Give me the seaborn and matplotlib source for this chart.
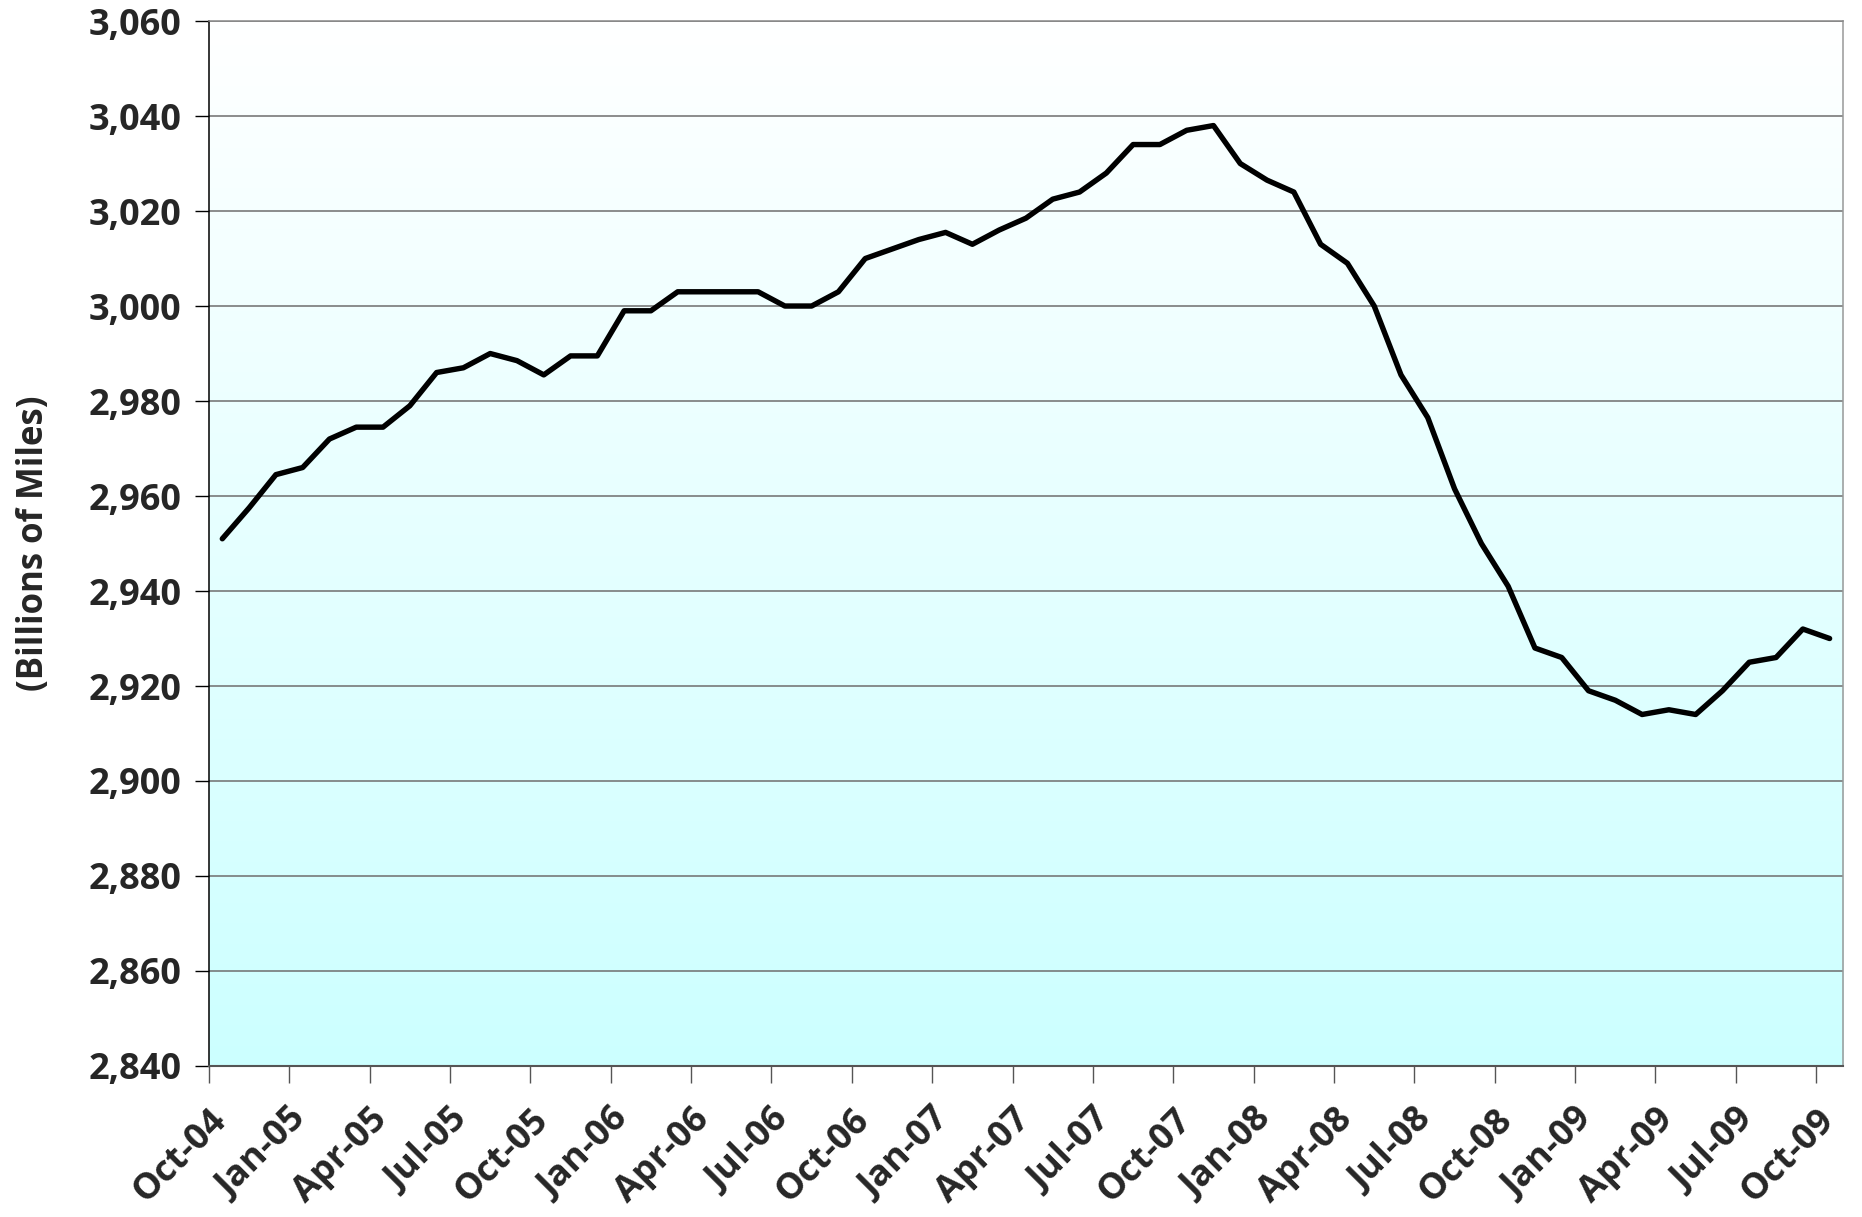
import matplotlib
matplotlib.use('Agg')
import matplotlib.pyplot as plt
import matplotlib.transforms as mtransforms
import seaborn as sns
import pandas as pd
import numpy as np

# monthly vehicle miles travelled, Oct-04 .. Oct-09
months = pd.date_range('2004-10-01', '2009-10-01', freq='MS')
values = [2951, 2957.5, 2964.5, 2966, 2972, 2974.5, 2974.5, 2979, 2986, 2987,
          2990, 2988.5, 2985.5, 2989.5, 2989.5, 2999, 2999, 3003, 3003, 3003,
          3003, 3000, 3000, 3003, 3010, 3012, 3014, 3015.5, 3013, 3016,
          3018.5, 3022.5, 3024, 3028, 3034, 3034, 3037, 3038, 3030, 3026.5,
          3024, 3013, 3009, 3000, 2985.5, 2976.5, 2961.5, 2950, 2941, 2928,
          2926, 2919, 2917, 2914, 2915, 2914, 2919, 2925, 2926, 2932, 2930]
y_ticks = list(range(2840, 3061, 20))

df = pd.DataFrame({'pos': np.arange(len(values)), 'vmt': values})
tick_labels = [m.strftime('%b-%y') for m in months[::3]]

sns.set_style('white')
plt.rcParams['font.family'] = ['Open Sans', 'DejaVu Sans']
plt.rcParams['font.weight'] = 'bold'

fig = plt.figure(figsize=(18.62, 12.17), dpi=100)
ax = fig.add_axes([0.1122, 0.1241, 0.8776, 0.8586])

# white (top) -> light cyan (bottom) gradient background
grad = np.linspace(0, 1, 256).reshape(-1, 1)
cmap = matplotlib.colors.LinearSegmentedColormap.from_list('bg', ['#FFFFFF', '#CCFFFF'])
ax.imshow(grad, cmap=cmap, aspect='auto', origin='upper', extent=[0, 1, 0, 1],
          transform=ax.transAxes, zorder=0)

sns.lineplot(data=df, x='pos', y='vmt', color='black', linewidth=3.9, ax=ax, zorder=3)

ax.set_xlim(-0.5, len(values) - 0.5)
ax.set_ylim(2840, 3060)

for v in y_ticks[1:]:
    ax.axhline(v, color='#6e6e6e', linewidth=1.1, zorder=1)

ax.set_yticks(y_ticks)
ax.set_yticklabels([f'{v:,}' for v in y_ticks], fontsize=26, fontweight='bold')
ax.set_xticks(np.arange(-0.5, len(values), 3))
ax.set_xticklabels(tick_labels, fontsize=26, fontweight='bold', rotation=45,
                   ha='right', va='top', rotation_mode='anchor')
shift = mtransforms.ScaledTranslation(-6 / 100, 0, fig.dpi_scale_trans)
for lab in ax.get_xticklabels():
    lab.set_transform(lab.get_transform() + shift)
ax.tick_params(axis='y', direction='out', length=10, width=1, color='black', pad=10, left=True)
ax.tick_params(axis='x', direction='out', length=12, width=1, color='#555555', pad=14, bottom=True)

ax.set_xlabel('')
ax.set_ylabel('(Billions of Miles)', fontsize=25, fontweight='bold', labelpad=26)

for side, col in [('left', 'black'), ('bottom', '#555555'), ('right', '#999999'), ('top', '#888888')]:
    ax.spines[side].set_visible(True)
    ax.spines[side].set_color(col)
    ax.spines[side].set_linewidth(1.5 if side == 'bottom' else 1.1)

fig.savefig('out.png', dpi=100)
